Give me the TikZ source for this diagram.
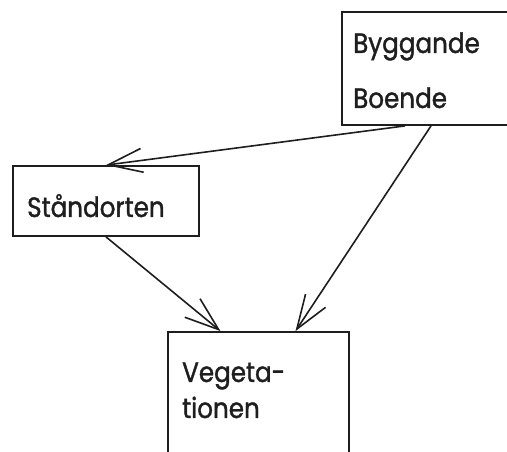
\documentclass[tikz,border=0pt]{standalone}
\usepackage{fontspec}
\setmainfont{Poppins}[FakeStretch=0.88, FakeBold=1.3]
\usetikzlibrary{arrows.meta}

\definecolor{ink}{HTML}{1E1E1E}

\tikzset{
  box/.style={draw=ink, line width=1.8pt, rectangle, inner sep=0pt},
  word/.style={anchor=base west, inner sep=0pt, text=ink,
    font=\fontsize{28}{28}\selectfont},
  flow/.style={draw=ink, line width=1.6pt,
    -{Straight Barb[length=34pt,width=24pt]}},
}

\begin{document}
\begin{tikzpicture}[x=1pt,y=1pt]
\useasboundingbox (0,0) rectangle (507,452);
\clip (0,0) rectangle (507,452);

% the three boxes (two run off the page edge)
\node[box, minimum width=178pt, minimum height=113pt] (bygg) at (431,383.5) {};
\node[box, minimum width=186pt, minimum height=70pt] (stand) at (106,251) {};
\node[box, minimum width=181pt, minimum height=140pt] (veg) at (258.5,50) {};

% labels
\node[word] (byggande) at (353,399) {Byggande};
\node[word] (boende) at (353,344) {Boende};
\node[word] (standorten) at (27,235) {Ståndorten};
\node[word] (vegeta) at (182,70) {Vegeta-};
\node[word] (tionen) at (182,34) {tionen};

% arrows
\draw[flow] ([xshift=-26pt]bygg.south) -- (stand.north);
\draw[flow] (bygg.south) -- ([xshift=37pt]veg.north);
\draw[flow] (stand.south) -- ([xshift=-38pt]veg.north);
\end{tikzpicture}
\end{document}
